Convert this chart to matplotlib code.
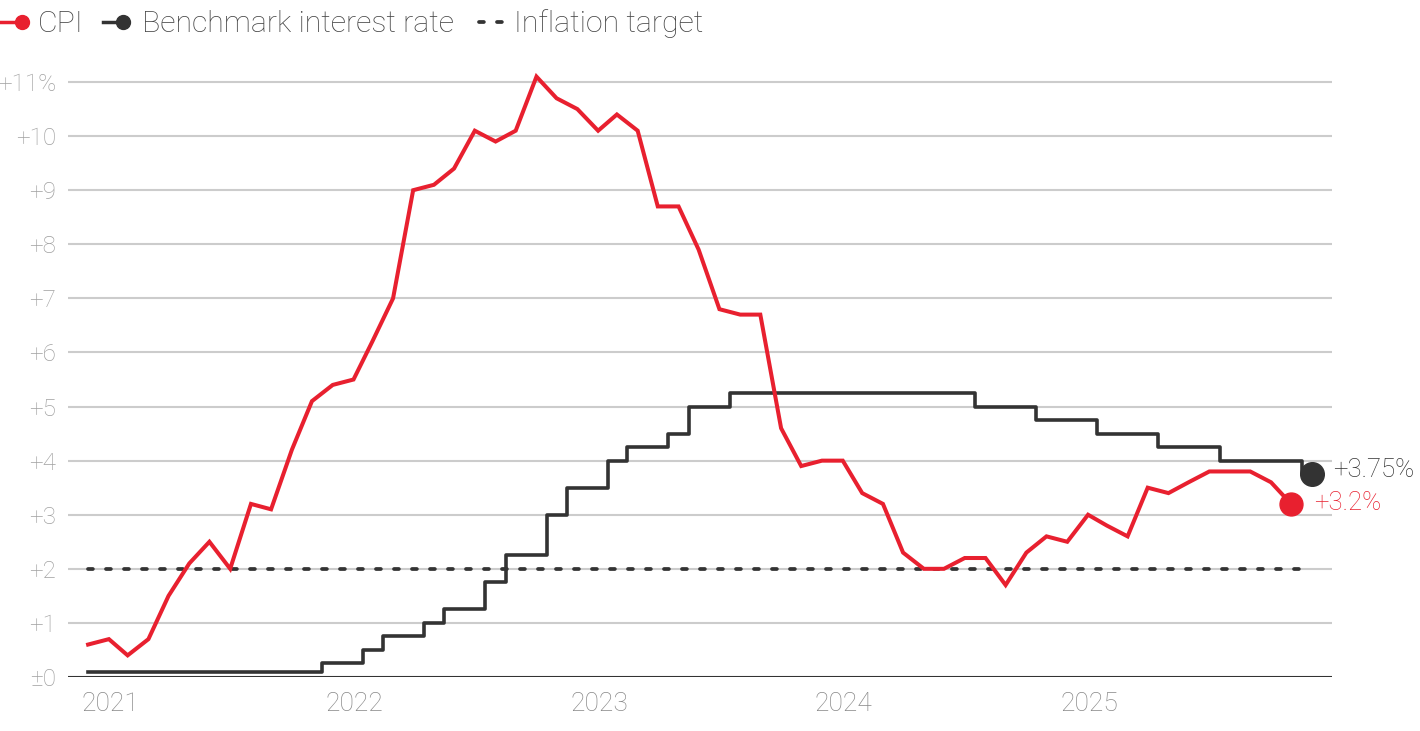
import matplotlib
matplotlib.use("Agg")
import matplotlib.pyplot as plt
from matplotlib.lines import Line2D
from matplotlib.transforms import ScaledTranslation
import pandas as pd

plt.rcParams['font.family'] = ['Roboto', 'DejaVu Sans']
plt.rcParams['font.weight'] = 'light'

# monthly data, Dec 2020 .. Nov 2025 (CPI) and Dec 2020 .. Dec 2025 (rate)
cpi_months = pd.period_range('2020-12', '2025-11', freq='M')
cpi = [0.6, 0.7, 0.4, 0.7, 1.5, 2.1, 2.5, 2.0, 3.2, 3.1, 4.2, 5.1, 5.4,
       5.5, 6.2, 7.0, 9.0, 9.1, 9.4, 10.1, 9.9, 10.1, 11.1, 10.7, 10.5,
       10.1, 10.4, 10.1, 8.7, 8.7, 7.9, 6.8, 6.7, 6.7, 4.6, 3.9, 4.0,
       4.0, 3.4, 3.2, 2.3, 2.0, 2.0, 2.2, 2.2, 1.7, 2.3, 2.6, 2.5,
       3.0, 2.8, 2.6, 3.5, 3.4, 3.6, 3.8, 3.8, 3.8, 3.6, 3.2]

rate_months = pd.period_range('2020-12', '2025-12', freq='M')
rate = [0.1,
        0.1, 0.1, 0.1, 0.1, 0.1, 0.1, 0.1, 0.1, 0.1, 0.1, 0.1, 0.25,
        0.25, 0.5, 0.75, 0.75, 1.0, 1.25, 1.25, 1.75, 2.25, 2.25, 3.0, 3.5,
        3.5, 4.0, 4.25, 4.25, 4.5, 5.0, 5.0, 5.25, 5.25, 5.25, 5.25, 5.25,
        5.25, 5.25, 5.25, 5.25, 5.25, 5.25, 5.25, 5.0, 5.0, 5.0, 4.75, 4.75,
        4.75, 4.5, 4.5, 4.5, 4.25, 4.25, 4.25, 4.0, 4.0, 4.0, 4.0, 3.75]

target = 2.0
years = [2021, 2022, 2023, 2024, 2025]
yticks = list(range(0, 12))
ylabels = ['±0'] + ['+%d' % v for v in yticks[1:-1]] + ['+11%']

# values are for the month, drawn at the month's end
cpi_x = [(p + 1).to_timestamp() for p in cpi_months]
rate_x = [(p + 1).to_timestamp() for p in rate_months]

RED = '#e8202f'
DARK = '#333333'
FS = 17.5

fig = plt.figure(figsize=(14.2, 7.31), dpi=100)
ax = fig.add_axes([68 / 1420, 54 / 731, 1264 / 1420, 611.2 / 731])

ax.plot([rate_x[0], rate_x[-1]], [target, target], color=DARK, lw=2.7,
        dashes=(1.3, 3.5), dash_capstyle='round', zorder=3)
ax.plot(rate_x, rate, color=DARK, lw=2.6, drawstyle='steps-mid', zorder=4)
ax.plot(cpi_x, cpi, color=RED, lw=2.9, solid_joinstyle='miter', zorder=5)

ax.plot(rate_x[-1], rate[-1], 'o', color=DARK, ms=17, zorder=6, clip_on=False)
ax.plot(cpi_x[-1], cpi[-1], 'o', color=RED, ms=16.5, zorder=6, clip_on=False)
ax.annotate('+%.2f%%' % rate[-1], (rate_x[-1], rate[-1]), xytext=(15, 3),
            textcoords='offset points', color=DARK, fontsize=18.5, va='center',
            annotation_clip=False)
ax.annotate('+%.1f%%' % cpi[-1], (cpi_x[-1], cpi[-1]), xytext=(16.5, 1),
            textcoords='offset points', color=RED, fontsize=18.5, va='center',
            annotation_clip=False)

ax.axhline(0, color=DARK, lw=2.2, zorder=2)

ax.set_xlim(pd.Timestamp('2020-12-02'), pd.Timestamp('2026-01-31'))
ax.set_ylim(0, 11.3)
ax.set_yticks(yticks)
ax.set_yticklabels(ylabels)
ax.set_xticks([pd.Timestamp('%d-01-01' % y) for y in years])
ax.set_xticklabels([str(y) for y in years])
ax.grid(axis='y', color='#cccccc', lw=1.5, zorder=1)
ax.set_axisbelow(True)
for s in ax.spines.values():
    s.set_visible(False)
ax.tick_params(axis='y', length=0, pad=8.5, labelsize=FS, labelcolor='#a0a0a0')
ax.tick_params(axis='x', length=0, pad=11, labelsize=19, labelcolor='#888888')
for lab in ax.get_xticklabels():
    lab.set_ha('left')
    lab.set_transform(lab.get_transform() + ScaledTranslation(-7 / 100, 0, fig.dpi_scale_trans))


# legend drawn by hand along the top
def px(x, y):
    return x / 1420, 1 - y / 731


def legend_item(x0, x1, text, tx, color, dashed=False):
    (a, b), (c, _) = px(x0, 22), px(x1, 22)
    if dashed:
        fig.add_artist(Line2D([a, c], [b, b], color=color, lw=2.7, dashes=(1.3, 3.5),
                              dash_capstyle='round'))
    else:
        fig.add_artist(Line2D([a, c], [b, b], color=color, lw=2.5))
        fig.add_artist(Line2D([c], [b], marker='o', ms=10, color=color))
    fig.text(*px(tx, 32.5), text, fontsize=21.8, color='#444444', va='baseline')


legend_item(0, 22, 'CPI', 38, RED)
legend_item(103, 123, 'Benchmark interest rate', 142, DARK)
legend_item(479, 507, 'Inflation target', 514, DARK, dashed=True)

fig.savefig('out.png')
